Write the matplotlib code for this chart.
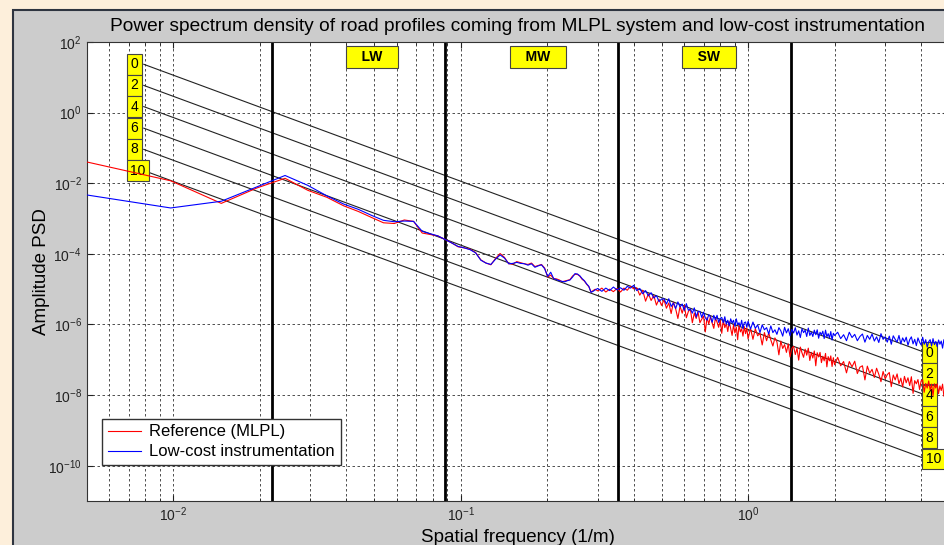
"""
PSD of road profiles: MLPL reference vs low-cost instrumentation.
Writes out.png
"""

import numpy as np
import matplotlib.pyplot as plt
from matplotlib.patches import Rectangle
from matplotlib.ticker import LogLocator, NullLocator, NullFormatter

plt.rcParams.update({
    "font.family": ["Liberation Sans", "DejaVu Sans"],
    "mathtext.fontset": "custom",
    "mathtext.rm": "Liberation Sans",
    "mathtext.default": "regular",
})

# ---------------------------------------------------------------
# Data (PSD stored as log10 values)
# ---------------------------------------------------------------
freq_low = [0.0049, 0.0098, 0.0147, 0.0196, 0.0245, 0.0294, 0.0343, 0.0392, 0.0441, 0.0490,
            0.0539, 0.0588, 0.0637, 0.0686, 0.0735, 0.0784, 0.0833, 0.0882, 0.0931, 0.0980,
            0.1029, 0.1078, 0.1127, 0.1176, 0.1225, 0.1274, 0.1323, 0.1372, 0.1421, 0.1470,
            0.1519, 0.1568, 0.1617, 0.1666, 0.1715, 0.1764, 0.1813, 0.1862, 0.1911, 0.1960,
            0.2009, 0.2058, 0.2107, 0.2156, 0.2205, 0.2254, 0.2303, 0.2352, 0.2401, 0.2450,
            0.2499, 0.2548, 0.2597, 0.2646, 0.2695, 0.2744, 0.2793, 0.2842, 0.2891, 0.2940]
ref_low = [-1.38, -1.93, -2.57, -2.13, -1.86, -2.20, -2.40, -2.64, -2.80, -2.97,
           -3.12, -3.14, -3.04, -3.08, -3.41, -3.45, -3.49, -3.59, -3.69, -3.80,
           -3.83, -3.87, -3.96, -4.17, -4.26, -4.31, -4.13, -3.99, -4.10, -4.28,
           -4.29, -4.22, -4.25, -4.28, -4.30, -4.26, -4.36, -4.33, -4.30, -4.40,
           -4.66, -4.60, -4.70, -4.71, -4.74, -4.79, -4.77, -4.75, -4.73, -4.63,
           -4.58, -4.58, -4.63, -4.72, -4.77, -4.86, -4.93, -5.08, -5.04, -5.00]
lowcost_low = [-2.32, -2.70, -2.51, -2.10, -1.78, -2.06, -2.36, -2.59, -2.74, -2.91,
               -3.05, -3.09, -3.07, -3.08, -3.36, -3.43, -3.49, -3.59, -3.69, -3.79,
               -3.83, -3.88, -3.97, -4.18, -4.26, -4.30, -4.15, -4.03, -4.12, -4.28,
               -4.27, -4.24, -4.27, -4.28, -4.32, -4.28, -4.38, -4.34, -4.31, -4.42,
               -4.64, -4.52, -4.70, -4.73, -4.76, -4.78, -4.79, -4.76, -4.74, -4.66,
               -4.56, -4.57, -4.62, -4.70, -4.76, -4.85, -4.92, -5.09, -5.06, -5.02]

freq_high = [0.30, 0.31, 0.32, 0.33, 0.34, 0.35, 0.36, 0.37, 0.38, 0.39,
             0.40, 0.41, 0.42, 0.43, 0.44, 0.45, 0.46, 0.47, 0.48, 0.49, 0.50,
             0.51, 0.52, 0.53, 0.54, 0.55, 0.56, 0.57, 0.58, 0.59, 0.60,
             0.61, 0.62, 0.63, 0.64, 0.65, 0.66, 0.67, 0.68, 0.69, 0.70,
             0.71, 0.72, 0.73, 0.74, 0.75, 0.76, 0.77, 0.78, 0.79, 0.80,
             0.81, 0.82, 0.83, 0.84, 0.85, 0.86, 0.87, 0.88, 0.89, 0.90,
             0.91, 0.92, 0.93, 0.94, 0.95, 0.96, 0.97, 0.98, 0.99, 1.00,
             1.02, 1.04, 1.06, 1.08, 1.10, 1.12, 1.14, 1.16, 1.18, 1.20,
             1.22, 1.24, 1.26, 1.28, 1.30, 1.32, 1.34, 1.36, 1.38, 1.40,
             1.42, 1.44, 1.46, 1.48, 1.50, 1.52, 1.54, 1.56, 1.58, 1.60,
             1.62, 1.64, 1.66, 1.68, 1.70, 1.72, 1.74, 1.76, 1.78, 1.80,
             1.82, 1.84, 1.86, 1.88, 1.90, 1.92, 1.94, 1.96, 1.98, 2.00,
             2.05, 2.10, 2.15, 2.20, 2.25, 2.30, 2.35, 2.40, 2.45, 2.50,
             2.55, 2.60, 2.65, 2.70, 2.75, 2.80, 2.85, 2.90, 2.95, 3.00,
             3.05, 3.10, 3.15, 3.20, 3.25, 3.30, 3.35, 3.40, 3.45, 3.50,
             3.55, 3.60, 3.65, 3.70, 3.75, 3.80, 3.85, 3.90, 3.95, 4.00,
             4.05, 4.10, 4.15, 4.20, 4.25, 4.30, 4.35, 4.40, 4.45, 4.50,
             4.55, 4.60, 4.65, 4.70, 4.75, 4.80, 4.85, 4.90, 4.95, 5.00]
ref_high = [-5.05, -4.97, -5.08, -5.00, -5.07, -4.98, -5.08, -4.97, -5.03, -4.92,
            -4.99, -4.96, -5.17, -5.03, -5.34, -5.13, -5.32, -5.18, -5.45, -5.28, -5.46,
            -5.30, -5.54, -5.39, -5.69, -5.37, -5.56, -5.83, -5.48, -5.68, -5.46,
            -5.81, -5.63, -5.57, -5.95, -5.68, -5.83, -5.65, -5.95, -5.85, -5.76,
            -6.21, -5.80, -5.99, -5.77, -5.96, -6.11, -5.82, -5.93, -6.08, -5.87,
            -6.25, -5.87, -6.09, -5.97, -6.20, -5.92, -6.11, -6.31, -6.01, -6.24,
            -6.07, -6.43, -6.02, -6.21, -6.12, -6.33, -6.06, -6.26, -6.10, -6.41,
            -6.11, -6.42, -6.12, -6.32, -6.25, -6.58, -6.23, -6.46, -6.24, -6.44,
            -6.61, -6.38, -6.49, -6.86, -6.47, -6.68, -6.57, -6.79, -6.55, -6.92,
            -6.67, -6.62, -6.85, -6.67, -7.01, -6.64, -6.80, -6.93, -6.70, -6.87,
            -6.67, -7.02, -6.79, -6.95, -6.75, -7.17, -6.80, -6.92, -6.79, -7.08,
            -6.90, -7.03, -6.82, -7.20, -6.91, -7.03, -6.89, -7.19, -6.94, -7.14,
            -6.93, -7.17, -7.05, -7.37, -7.05, -7.20, -7.04, -7.39, -7.21, -7.17,
            -7.57, -7.18, -7.38, -7.27, -7.50, -7.24, -7.41, -7.62, -7.33, -7.54,
            -7.42, -7.36, -7.76, -7.43, -7.57, -7.40, -7.68, -7.52, -7.77, -7.47,
            -7.65, -7.51, -7.73, -7.48, -7.95, -7.59, -7.68, -7.56, -7.84, -7.60,
            -7.57, -7.92, -7.67, -7.80, -7.60, -7.85, -7.69, -8.02, -7.68, -7.80,
            -7.68, -7.96, -7.74, -7.87, -7.69, -8.03, -7.81, -7.75, -7.99, -7.81]
lowcost_high = [-4.98, -5.06, -4.97, -5.04, -4.94, -5.02, -4.96, -5.03, -4.92, -4.97,
                -4.89, -5.04, -4.98, -5.13, -5.04, -5.19, -5.10, -5.25, -5.18, -5.35, -5.28,
                -5.27, -5.42, -5.27, -5.49, -5.39, -5.55, -5.36, -5.50, -5.42, -5.60,
                -5.41, -5.60, -5.56, -5.68, -5.53, -5.79, -5.63, -5.63, -5.80, -5.65,
                -5.81, -5.88, -5.72, -5.79, -5.94, -5.74, -5.87, -5.74, -5.94, -5.83,
                -5.80, -5.95, -5.78, -5.99, -5.88, -6.04, -5.84, -5.96, -5.88, -6.05,
                -5.84, -6.01, -5.95, -6.06, -5.88, -6.12, -5.95, -5.93, -6.08, -5.91,
                -6.13, -5.93, -6.11, -6.01, -6.23, -6.01, -6.15, -6.09, -6.27, -6.04,
                -6.23, -6.15, -6.28, -6.09, -6.18, -6.33, -6.08, -6.24, -6.12, -6.32,
                -6.14, -6.24, -6.09, -6.30, -6.18, -6.37, -6.12, -6.23, -6.16, -6.34,
                -6.10, -6.31, -6.22, -6.34, -6.16, -6.29, -6.15, -6.39, -6.22, -6.29,
                -6.19, -6.40, -6.16, -6.35, -6.26, -6.38, -6.20, -6.44, -6.25, -6.31,
                -6.22, -6.40, -6.29, -6.46, -6.22, -6.37, -6.28, -6.46, -6.34, -6.27,
                -6.50, -6.31, -6.42, -6.27, -6.47, -6.35, -6.51, -6.26, -6.42, -6.35,
                -6.50, -6.33, -6.56, -6.32, -6.42, -6.50, -6.31, -6.55, -6.38, -6.49,
                -6.36, -6.59, -6.43, -6.35, -6.55, -6.42, -6.60, -6.38, -6.50, -6.58,
                -6.36, -6.56, -6.43, -6.64, -6.49, -6.43, -6.61, -6.40, -6.57, -6.48,
                -6.63, -6.44, -6.56, -6.47, -6.67, -6.43, -6.61, -6.54, -6.45, -6.63]

# road class reference lines (straight in log-log)
class_labels = ["0", "2", "4", "6", "8", "10"]
class_f = [0.0079, 4.15]
class_psd_start = [23.4, 5.9, 1.48, 0.363, 0.091, 0.0229]
class_psd_end = [1.58e-7, 3.98e-8, 1.0e-8, 2.45e-9, 6.2e-10, 1.55e-10]
label_f_left = 0.0071

# wavelength bands
band_edges = [0.0221, 0.0884, 0.3536, 1.4142]
band_names = ["LW", "MW", "SW"]
band_label_f = [0.0492, 0.186, 0.732]

YELLOW = "#FFFF00"
PANEL = "#CCCCCC"

fig = plt.figure(figsize=(9.45, 5.45), dpi=100, facecolor="#FDEFDB")
panel = Rectangle((13 / 945, -0.1), 1.2, 1 - 10 / 545 + 0.1,
                  transform=fig.transFigure, facecolor=PANEL,
                  edgecolor="#2E3440", linewidth=1.5, zorder=-10)
fig.add_artist(panel)

ax = fig.add_axes([0.0917, 0.0807, 0.9125, 0.8422])
ax.set_zorder(1)
ax.set_facecolor("white")
ax.set_xscale("log")
ax.set_yscale("log")

# class lines + yellow tags
for lab, p0, p1 in zip(class_labels, class_psd_start, class_psd_end):
    ax.plot(class_f, [p0, p1], color="#222222", lw=0.8, zorder=2)
    box = dict(boxstyle="square,pad=0.25", fc=YELLOW, ec="#444444", lw=0.8)
    ax.text(label_f_left, p0, lab, ha="left", va="center", fontsize=10, bbox=box, zorder=2.5)
    ax.text(class_f[1], p1, lab, ha="left", va="center", fontsize=10, bbox=box, zorder=2.5)

for f in band_edges:
    ax.axvline(f, color="black", lw=2, zorder=2)

for name, f in zip(band_names, band_label_f):
    ax.text(f, 37, f"   {name}   ", ha="center", va="center", fontsize=10, fontweight="bold",
            bbox=dict(boxstyle="square,pad=0.3", fc=YELLOW, ec="#444444", lw=0.8), zorder=2.5)

freq = np.array(freq_low + freq_high)
ref = 10.0 ** np.array(ref_low + ref_high)
lowcost = 10.0 ** np.array(lowcost_low + lowcost_high)

ax.plot(freq, ref, color="#FF0000", lw=0.8, label="Reference (MLPL)", zorder=3)
ax.plot(freq, lowcost, color="#0000FF", lw=0.8, label="Low-cost instrumentation", zorder=3.1)

ax.set_xlim(0.005, 5)
ax.set_ylim(1e-11, 1e2)
ax.set_yticks([1e-10, 1e-8, 1e-6, 1e-4, 1e-2, 1e0, 1e2])
ax.yaxis.set_minor_locator(NullLocator())
ax.xaxis.set_major_locator(LogLocator(base=10))
ax.xaxis.set_minor_locator(LogLocator(base=10, subs=np.arange(2, 10)))
ax.xaxis.set_minor_formatter(NullFormatter())

grid_kw = dict(color="#333333", lw=0.6, linestyle=(0, (3, 3)))
ax.grid(True, which="major", axis="both", **grid_kw)
ax.grid(True, which="minor", axis="x", **grid_kw)
ax.set_axisbelow(True)

ax.tick_params(which="both", direction="in", top=True, right=True, labelsize=10, colors="#222222")
ax.tick_params(which="major", length=4)
ax.tick_params(which="minor", length=2)
for s in ax.spines.values():
    s.set_color("#333333")
    s.set_linewidth(0.8)

ax.legend(loc="lower left", bbox_to_anchor=(0.0177, 0.078), borderaxespad=0, fontsize=12,
          fancybox=False, edgecolor="#333333", framealpha=1, handlelength=2,
          labelspacing=0.3, borderpad=0.35, handletextpad=0.5)

ax.set_title("Power spectrum density of road profiles coming from MLPL system and low-cost instrumentation",
             fontsize=13.8, pad=8)
ax.set_ylabel("Amplitude PSD", fontsize=13.5, labelpad=-1)
ax.set_xlabel("Spatial frequency (1/m)", fontsize=13.5, labelpad=3)

fig.savefig("out.png", dpi=100, facecolor=fig.get_facecolor())
